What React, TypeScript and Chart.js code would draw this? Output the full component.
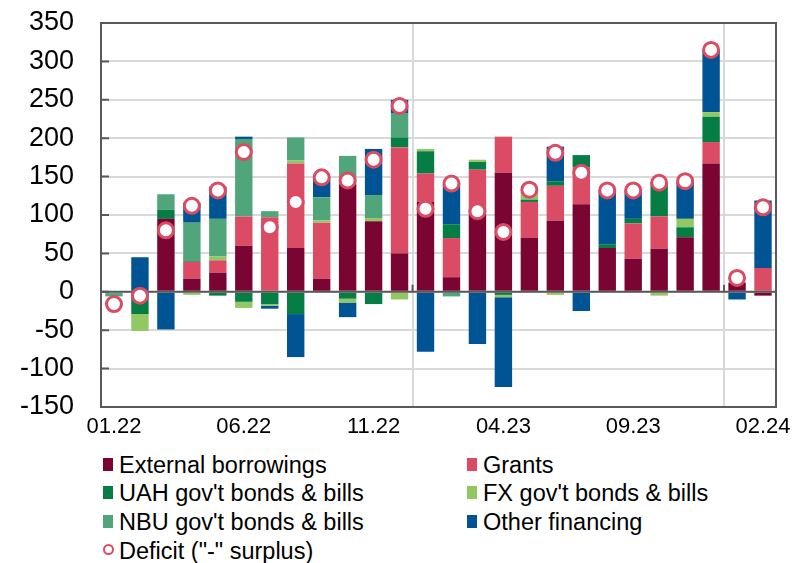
import React, { useEffect, useRef } from "react";
import { Chart, registerables } from "chart.js";

Chart.register(...registerables);

const months = [
  "01.22", "02.22", "03.22", "04.22", "05.22", "06.22", "07.22", "08.22", "09.22", "10.22", "11.22", "12.22",
  "01.23", "02.23", "03.23", "04.23", "05.23", "06.23", "07.23", "08.23", "09.23", "10.23", "11.23", "12.23",
  "01.24", "02.24",
];

const externalBorrowings = [0, 0, 95, 17, 25, 60, 0, 57, 17, 140, 92, 50, 117, 19, 107, 155, 70, 93, 114, 57, 43, 56, 71, 167, 12, -5];
const grants = [0, 0, 0, 22, 16, 38, 97, 110, 73, 0, 0, 138, 37, 51, 52, 47, 47, 45, 48, 0, 46, 42, 0, 28, 0, 31];
const uahBonds = [-2, -29, 12, 1, -5, -13, -16, -29, 0, -9, -16, 13, 29, 18, 10, -4, 3, 6, 16, 5, 6, 45, 13, 33, 0, 0];
const fxBonds = [0, -22, 0, -4, 5, -8, -2, 4, 3, -5, 4, -10, 3, 0, 3, -3, 10, -4, 0, 0, 0, -5, 11, 6, 0, 0];
const nbuBonds = [-4, 0, 20, 50, 49, 101, 8, 30, 30, 37, 30, 31, 0, -6, 0, 0, 0, 0, 0, 0, 0, 0, 0, 0, 0, 0];
const otherFinancing = [0, 45, -49, 26, 42, 3, -4, -56, 26, -19, 60, 18, -78, 52, -68, -117, 0, 45, -25, 70, 37, 0, 49, 80, -10, 88];
const deficit = [-16, -5, 80, 112, 132, 182, 84, 117, 149, 145, 172, 242, 108, 141, 105, 78, 133, 181, 155, 132, 132, 142, 144, 315, 18, 110];

const yTicks = [-150, -100, -50, 0, 50, 100, 150, 200, 250, 300, 350];
const xLabelEvery = 5;
const yearBoundaries = [12, 24];

const C_EXT = "#7B0532";
const C_GRANTS = "#DC4B64";
const C_UAH = "#057D44";
const C_FX = "#92C862";
const C_NBU = "#50A57A";
const C_OTHER = "#005493";
const AXIS = "#595959";
const GRID = "#d9d9d9";

const framePlugin = {
  id: "framePlugin",
  beforeDatasetDraw(chart: any, args: any) {
    if (args.meta.type !== "line") return;
    const { ctx, chartArea, scales } = chart;
    const y0 = scales.y.getPixelForValue(0);
    ctx.save();
    ctx.strokeStyle = AXIS;
    ctx.lineWidth = 2;
    ctx.beginPath();
    ctx.moveTo(chartArea.left, y0);
    ctx.lineTo(chartArea.right, y0);
    for (const b of yearBoundaries) {
      const x = (scales.x.getPixelForValue(b - 1) + scales.x.getPixelForValue(b)) / 2;
      ctx.moveTo(x, y0);
      ctx.lineTo(x, y0 - 7);
    }
    ctx.stroke();
    ctx.restore();
  },
  afterDraw(chart: any) {
    const { ctx, chartArea, scales } = chart;
    ctx.save();
    ctx.strokeStyle = AXIS;
    ctx.lineWidth = 2;
    ctx.strokeRect(chartArea.left, chartArea.top, chartArea.right - chartArea.left, chartArea.bottom - chartArea.top);
    ctx.beginPath();
    for (const v of yTicks) {
      const y = scales.y.getPixelForValue(v);
      ctx.moveTo(chartArea.left, y);
      ctx.lineTo(chartArea.left + 8, y);
    }
    ctx.stroke();
    ctx.restore();
  },
};

const legendItems = [
  { label: "External borrowings", color: C_EXT, col: 0, row: 0 },
  { label: "Grants", color: C_GRANTS, col: 1, row: 0 },
  { label: "UAH gov't bonds & bills", color: C_UAH, col: 0, row: 1 },
  { label: "FX gov't bonds & bills", color: C_FX, col: 1, row: 1 },
  { label: "NBU gov't bonds & bills", color: C_NBU, col: 0, row: 2 },
  { label: "Other financing", color: C_OTHER, col: 1, row: 2 },
];

export default function App() {
  const canvasRef = useRef<HTMLCanvasElement | null>(null);

  useEffect(() => {
    if (!canvasRef.current) return;
    const barDs = (label: string, data: number[], color: string) => ({
      type: "bar" as const,
      label,
      data,
      backgroundColor: color,
      borderWidth: 0,
      stack: "fin",
      order: 1,
      barPercentage: 0.67,
      categoryPercentage: 1,
    });
    const chart = new Chart(canvasRef.current, {
      type: "bar",
      data: {
        labels: months,
        datasets: [
          barDs("External borrowings", externalBorrowings, C_EXT),
          barDs("Grants", grants, C_GRANTS),
          barDs("UAH gov't bonds & bills", uahBonds, C_UAH),
          barDs("FX gov't bonds & bills", fxBonds, C_FX),
          barDs("NBU gov't bonds & bills", nbuBonds, C_NBU),
          barDs("Other financing", otherFinancing, C_OTHER),
          {
            type: "line" as const,
            label: 'Deficit ("-" surplus)',
            data: deficit,
            showLine: false,
            pointStyle: "circle",
            pointRadius: 7.5,
            pointBorderWidth: 3,
            pointBackgroundColor: "#ffffff",
            pointBorderColor: C_GRANTS,
            borderColor: C_GRANTS,
            backgroundColor: "#ffffff",
            stack: "deficit",
            order: 0,
          } as any,
        ],
      },
      options: {
        animation: false,
        responsive: false,
        maintainAspectRatio: false,
        layout: { padding: { top: 23, right: 16, left: 0, bottom: 0 } },
        plugins: { legend: { display: false }, tooltip: { enabled: false } },
        scales: {
          x: {
            stacked: true,
            offset: true,
            border: { display: false },
            grid: {
              offset: true,
              drawTicks: false,
              lineWidth: 2,
              color: (ctx: any) => (yearBoundaries.includes(ctx.index) ? GRID : "rgba(0,0,0,0)"),
            },
            ticks: {
              autoSkip: false,
              maxRotation: 0,
              minRotation: 0,
              padding: 7,
              color: "#000",
              font: { family: "'Liberation Sans', Arial, sans-serif", size: 22 },
              callback: (_v: any, i: number) => (i % xLabelEvery === 0 ? months[i] : ""),
            },
            afterFit: (scale: any) => {
              scale.height = 38;
              scale.paddingLeft = 0;
              scale.paddingRight = 0;
            },
          },
          y: {
            stacked: true,
            min: -150,
            max: 350,
            border: { display: false },
            grid: { drawTicks: false, color: GRID, lineWidth: 2 },
            ticks: {
              stepSize: 50,
              padding: 27,
              color: "#000",
              font: { family: "'Liberation Sans', Arial, sans-serif", size: 27 },
            },
            afterFit: (scale: any) => {
              scale.width = 101;
              scale.paddingTop = 0;
              scale.paddingBottom = 0;
            },
          },
        },
      },
      plugins: [framePlugin],
    });
    return () => chart.destroy();
  }, []);

  const rowCenter = [464, 492.7, 521.3, 550];
  const colBox = [103, 467];
  const textStyle: React.CSSProperties = {
    position: "absolute",
    height: 24,
    lineHeight: "24px",
    fontFamily: "'Liberation Sans', Arial, sans-serif",
    fontSize: 23.5,
    color: "#000",
    whiteSpace: "nowrap",
  };

  return (
    <div style={{ position: "absolute", left: 0, top: 0, width: 792, height: 563, background: "#fff" }}>
      <canvas ref={canvasRef} width={792} height={445} style={{ display: "block", width: 792, height: 445 }} />
      {legendItems.map((it) => (
        <React.Fragment key={it.label}>
          <div
            style={{
              position: "absolute",
              left: colBox[it.col],
              top: rowCenter[it.row] - 6.5,
              width: 10,
              height: 13,
              background: it.color,
            }}
          />
          <div style={{ ...textStyle, left: colBox[it.col] + 16, top: rowCenter[it.row] - 11.5 }}>{it.label}</div>
        </React.Fragment>
      ))}
      <div
        style={{
          position: "absolute",
          left: 102.5,
          top: rowCenter[3] - 6,
          width: 7,
          height: 7,
          borderRadius: "50%",
          border: `2.5px solid ${C_GRANTS}`,
          background: "#fff",
        }}
      />
      <div style={{ ...textStyle, left: 119, top: rowCenter[3] - 11.5 }}>Deficit ("-" surplus)</div>
    </div>
  );
}
